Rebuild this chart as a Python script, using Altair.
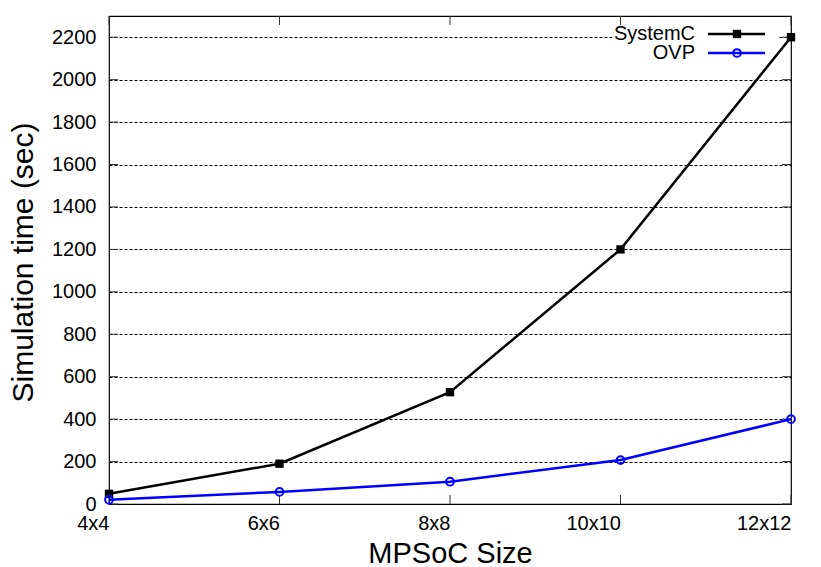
import altair as alt
import pandas as pd

sizes = ["4x4", "6x6", "8x8", "10x10", "12x12"]
systemc = [48, 190, 527, 1200, 2200]
ovp = [20, 57, 105, 207, 400]
y_ticks = [0, 200, 400, 600, 800, 1000, 1200, 1400, 1600, 1800, 2000, 2200]
series = ["SystemC", "OVP"]
colors = ["#000000", "#0000ff"]

W, H = 682, 488
FONT = "Liberation Sans"

df = pd.DataFrame({
    "size": sizes * 2,
    "time": systemc + ovp,
    "sim": ["SystemC"] * len(sizes) + ["OVP"] * len(sizes),
})
ticks_x = pd.DataFrame({"size": sizes})
ticks_y = pd.DataFrame({"v": y_ticks})
one = pd.DataFrame({"k": [0]})

xscale = alt.Scale(type="point", padding=0, domain=sizes)
yscale = alt.Scale(domain=[0, 2300], nice=False, zero=True)
cscale = alt.Scale(domain=series, range=colors)

base = alt.Chart(df)

x_enc = alt.X("size:N", sort=sizes, scale=xscale, title="MPSoC Size",
              axis=alt.Axis(labelAngle=0, ticks=False, domain=False, grid=False,
                            labelFontSize=20, labelPadding=19, labelFont=FONT,
                            labelColor="black", titleFont=FONT, titleFontSize=29,
                            titleFontWeight="normal", titleColor="black",
                            titleX=W / 2, titleY=58, titleBaseline="alphabetic"))
y_enc = alt.Y("time:Q", scale=yscale, title="Simulation time (sec)",
              axis=alt.Axis(values=y_ticks, format="d", grid=True, gridDash=[3, 2],
                            gridColor="#000000", gridWidth=1, ticks=False, domain=False,
                            labelFontSize=20, labelPadding=13, labelFont=FONT,
                            labelColor="black", titleFont=FONT, titleFontSize=30,
                            titleFontWeight="normal", titleColor="black",
                            titleX=-77, titleY=246, titleAngle=270,
                            titleBaseline="alphabetic", titleAlign="center"))

# white box behind the key
legend_bg = alt.Chart(one).mark_rect(color="white").encode(
    x=alt.value(503), x2=alt.value(669), y=alt.value(8), y2=alt.value(46))

lines = base.mark_line(strokeWidth=2.5).encode(
    x=x_enc, y=y_enc,
    color=alt.Color("sim:N", scale=cscale, legend=None))

pts_sc = base.transform_filter(alt.datum.sim == "SystemC").mark_point(
    shape="square", filled=True, size=70, color="#000000", opacity=1).encode(
    x=alt.X("size:N", sort=sizes, scale=xscale), y=alt.Y("time:Q", scale=yscale))
pts_ovp = base.transform_filter(alt.datum.sim == "OVP").mark_point(
    shape="circle", filled=False, size=60, strokeWidth=2, color="#0000ff", opacity=1).encode(
    x=alt.X("size:N", sort=sizes, scale=xscale), y=alt.Y("time:Q", scale=yscale))

tick_col = "#333333"
xt_bottom = alt.Chart(ticks_x).mark_rule(color=tick_col, strokeWidth=1).encode(
    x=alt.X("size:N", sort=sizes, scale=xscale), y=alt.value(H), y2=alt.value(H - 9))
xt_top = alt.Chart(ticks_x).mark_rule(color=tick_col, strokeWidth=1).encode(
    x=alt.X("size:N", sort=sizes, scale=xscale), y=alt.value(0), y2=alt.value(9))
yt_left = alt.Chart(ticks_y).mark_rule(color=tick_col, strokeWidth=1).encode(
    y=alt.Y("v:Q", scale=yscale), x=alt.value(0), x2=alt.value(9))
yt_right = alt.Chart(ticks_y).mark_rule(color=tick_col, strokeWidth=1).encode(
    y=alt.Y("v:Q", scale=yscale), x=alt.value(W - 9), x2=alt.value(W))

legend_layers = []
for name, col, ly, shape, filled, size in [
    ("SystemC", "#000000", 18, "square", True, 70),
    ("OVP", "#0000ff", 37, "circle", False, 60),
]:
    ld = pd.DataFrame({"sim": [name]})
    legend_layers.append(alt.Chart(ld).mark_text(
        align="right", baseline="middle", font=FONT, fontSize=20, color="black").encode(
        text="sim:N", x=alt.value(586), y=alt.value(ly)))
    legend_layers.append(alt.Chart(ld).mark_rule(color=col, strokeWidth=2.5).encode(
        x=alt.value(599), x2=alt.value(656), y=alt.value(ly)))
    legend_layers.append(alt.Chart(ld).mark_point(
        shape=shape, filled=filled, size=size, strokeWidth=2, color=col, opacity=1).encode(
        x=alt.value(628), y=alt.value(ly)))

chart = alt.layer(
    legend_bg, xt_bottom, xt_top, yt_left, yt_right, lines, pts_sc, pts_ovp, *legend_layers
).properties(
    width=W, height=H,
    autosize=alt.AutoSizeParams(type="none"),
    padding={"left": 101, "top": 8, "right": 21, "bottom": 62},
    background="white",
).configure_view(stroke="black", strokeWidth=1.2)

chart.save("out.html", embed_options={"renderer": "svg", "actions": False})
